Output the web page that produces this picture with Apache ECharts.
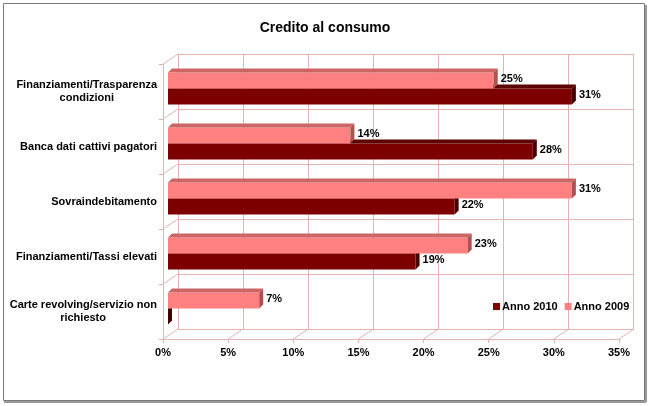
<!DOCTYPE html>
<html>
<head>
<meta charset="utf-8">
<script src="https://cdn.jsdelivr.net/npm/echarts@6/dist/echarts.min.js"></script>
<style>
  html, body { margin: 0; padding: 0; background: #fff; }
  #chart { width: 650px; height: 406px; }
</style>
</head>
<body>
<div id="chart"></div>
<script>
const categories = [
  'Finanziamenti/Trasparenza\ncondizioni',
  'Banca dati cattivi pagatori',
  'Sovraindebitamento',
  'Finanziamenti/Tassi elevati',
  'Carte revolving/servizio non\nrichiesto'
]
const anno2009 = [25, 14, 31, 23, 7]
const anno2010 = [31, 28, 22, 19, 0]
const xTicks = [0, 5, 10, 15, 20, 25, 30, 35]

const gridColor = '#e3b3b3'
const font = 'Liberation Sans, Arial, sans-serif'

// depth of the 3d look
const DX = 15, DY = -10
const BAR_H = 16, BAR_D = 4

// pad the short lines of a category label so they sit centred under the long one
const ctx = document.createElement('canvas').getContext('2d')
ctx.font = 'bold 11px ' + font
const labelRich = {}
categories.forEach((c, i) => {
  const lines = c.split('\n')
  const widths = lines.map(l => ctx.measureText(l).width)
  const w = Math.max(...widths)
  lines.forEach((l, j) => {
    labelRich['c' + i + 'x' + j] = {
      padding: [0, Math.round((w - widths[j]) / 2), 0, 0], color: '#000',
      fontFamily: font, fontSize: 11, fontWeight: 'bold', lineHeight: 13
    }
  })
})

function barRender(isTop, front, top, side) {
  return function (params, api) {
    const val = api.value(0)
    const cat = api.value(1)
    const s = api.coord([0, cat])
    const e = api.coord([val, cat])
    const x0 = s[0] + 5
    const x1 = e[0] + 5
    const y0 = s[1] - 3 + (isTop ? -BAR_H : 0)
    const y1 = y0 + BAR_H
    const d = BAR_D
    const children = []
    if (x1 > x0) {
      children.push({ type: 'rect', shape: { x: x0, y: y0, width: x1 - x0, height: BAR_H }, style: { fill: front } })
      children.push({ type: 'polygon', shape: { points: [[x0, y0], [x1, y0], [x1 + d, y0 - d], [x0 + d, y0 - d]] }, style: { fill: top } })
    }
    children.push({ type: 'polygon', shape: { points: [[x1, y0], [x1 + d, y0 - d], [x1 + d, y1 - d], [x1, y1]] }, style: { fill: side } })
    if (val > 0) {
      children.push({
        type: 'text',
        style: {
          x: x1 + d + 3, y: (y0 + y1) / 2 - d / 2,
          text: val + '%', fill: '#000', font: 'bold 11px ' + font,
          verticalAlign: 'middle', align: 'left'
        }
      })
    }
    return { type: 'group', children }
  }
}

const chart = echarts.init(document.getElementById('chart'))
chart.setOption({
  backgroundColor: '#fff',
  animation: false,
  title: {
    text: 'Credito al consumo',
    left: 'center',
    top: 16,
    textStyle: { fontFamily: font, fontSize: 14, fontWeight: 'bold', color: '#000' }
  },
  legend: {
    data: ['Anno 2010', 'Anno 2009'],
    left: 488,
    top: 296,
    icon: 'rect',
    itemWidth: 7,
    itemHeight: 7,
    itemGap: 7,
    textStyle: { fontFamily: font, fontSize: 11, fontWeight: 'bold', color: '#000', padding: [0, 0, 0, -3] }
  },
  graphic: [
    { type: 'rect', shape: { x: 3.5, y: 3.5, width: 641, height: 397 }, style: { fill: null, stroke: '#7a7a7a', lineWidth: 1 }, z: 100 },
    { type: 'line', shape: { x1: 4, y1: 402, x2: 646, y2: 402 }, style: { stroke: '#9a9a9a', lineWidth: 2 }, z: 100 },
    { type: 'line', shape: { x1: 646, y1: 5, x2: 646, y2: 402 }, style: { stroke: '#9a9a9a', lineWidth: 2 }, z: 100 }
  ],
  grid: [
    { left: 178, top: 54, width: 455, height: 275 },
    { left: 163, top: 64, width: 456, height: 275 }
  ],
  xAxis: [
    {
      gridIndex: 0, type: 'value', min: 0, max: 35, interval: 5,
      axisLabel: { show: false }, axisTick: { show: false }, axisLine: { show: false },
      splitLine: { show: true, lineStyle: { color: gridColor } }
    },
    {
      gridIndex: 1, type: 'value', min: 0, max: 35, interval: 5,
      axisLine: { show: true, lineStyle: { color: gridColor } },
      axisTick: { show: true, length: 4, lineStyle: { color: gridColor } },
      splitLine: { show: false },
      axisLabel: {
        margin: 8, formatter: '{value}%', color: '#000',
        fontFamily: font, fontSize: 11, fontWeight: 'bold'
      }
    }
  ],
  yAxis: [
    {
      gridIndex: 0, type: 'category', data: categories, inverse: true,
      axisLabel: { show: false }, axisTick: { show: false },
      axisLine: { show: true, lineStyle: { color: gridColor } },
      splitLine: { show: true, lineStyle: { color: gridColor } }
    },
    {
      gridIndex: 1, type: 'category', data: categories, inverse: true,
      axisLine: { show: true, lineStyle: { color: gridColor } },
      axisTick: { show: true, length: 4, lineStyle: { color: gridColor } },
      axisLabel: {
        margin: 6, align: 'right', color: '#000',
        fontFamily: font, fontSize: 11, fontWeight: 'bold', lineHeight: 13,
        formatter: (v, i) => v.split('\n').map((l, j) => '{c' + i + 'x' + j + '|' + l + '}').join('\n'),
        rich: labelRich
      }
    }
  ],
  series: [
    {
      // floor diagonals
      type: 'custom', xAxisIndex: 1, yAxisIndex: 1, silent: true,
      data: xTicks.map(v => [v, 0]),
      renderItem: (params, api) => {
        const x = api.coord([api.value(0), 0])[0]
        const y = params.coordSys.y + params.coordSys.height
        return { type: 'line', shape: { x1: x, y1: y, x2: x + DX, y2: y + DY }, style: { stroke: gridColor, lineWidth: 1 } }
      }
    },
    {
      // side wall diagonals
      type: 'custom', xAxisIndex: 1, yAxisIndex: 1, silent: true,
      data: categories.map((c, i) => [0, i]),
      renderItem: (params, api) => {
        const x = params.coordSys.x
        const y = api.coord([0, api.value(1)])[1] - api.size([0, 1])[1] / 2
        return { type: 'line', shape: { x1: x, y1: y, x2: x + DX, y2: y + DY }, style: { stroke: gridColor, lineWidth: 1 } }
      }
    },
    {
      name: 'Anno 2010', type: 'custom', xAxisIndex: 1, yAxisIndex: 1,
      itemStyle: { color: '#800000' },
      data: anno2010.map((v, i) => [v, i]),
      renderItem: barRender(false, '#7d0000', '#5e0000', '#420000')
    },
    {
      name: 'Anno 2009', type: 'custom', xAxisIndex: 1, yAxisIndex: 1,
      itemStyle: { color: '#ff8080' },
      data: anno2009.map((v, i) => [v, i]),
      renderItem: barRender(true, '#ff8080', '#cc6666', '#a85454')
    }
  ]
})
</script>
</body>
</html>
